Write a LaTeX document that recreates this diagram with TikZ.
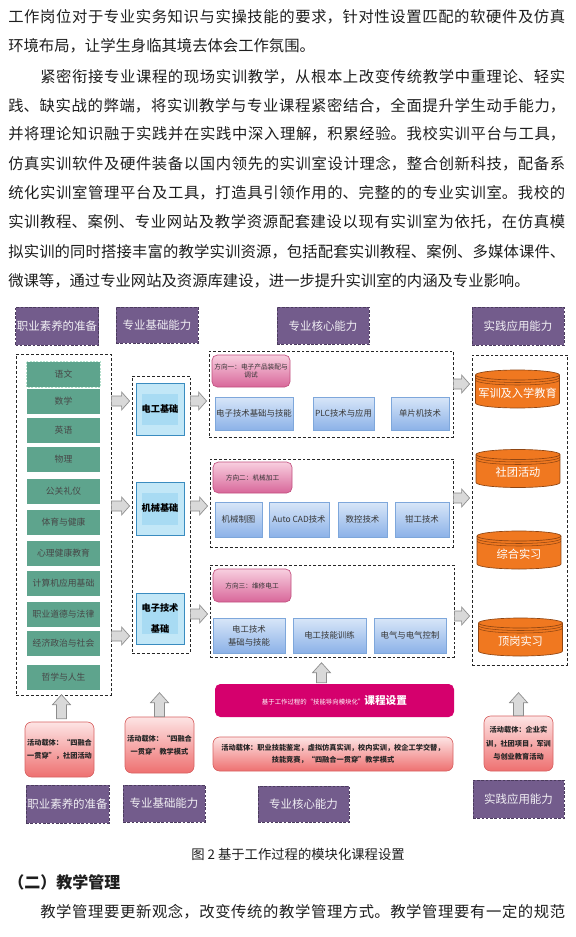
\documentclass[tikz,border=0pt]{standalone}
\usepackage{fontspec}
\setmainfont{Noto Sans CJK SC}
\usepackage{xcolor}
\usepackage{tikz}
\usetikzlibrary{calc}
\XeTeXlinebreaklocale "zh"
\XeTeXlinebreakskip=0pt plus 2pt
\definecolor{ink}{HTML}{1E1E1E}
\definecolor{hdpurple}{HTML}{735C8C}
\definecolor{hdline}{HTML}{4B3B5E}
\definecolor{sage}{HTML}{5EA48D}
\definecolor{sagedash}{HTML}{B4E0CC}
\definecolor{iceblue}{HTML}{C2E7F7}
\definecolor{icedeep}{HTML}{A8DBF3}
\definecolor{iceline}{HTML}{3A8CC0}
\definecolor{rosetop}{HTML}{F8CFDF}
\definecolor{rosebot}{HTML}{D8679A}
\definecolor{roseline}{HTML}{C2507F}
\definecolor{skytop}{HTML}{D8E6F8}
\definecolor{skybot}{HTML}{8CB2E8}
\definecolor{skyline}{HTML}{7EA7DB}
\definecolor{drum}{HTML}{F07820}
\definecolor{drumline}{HTML}{8F4512}
\definecolor{magentax}{HTML}{D5006D}
\definecolor{salmtop}{HTML}{FDE4E4}
\definecolor{salmbot}{HTML}{EE7070}
\definecolor{salmline}{HTML}{D86262}
\definecolor{arrowfill}{HTML}{D9D9D9}
\definecolor{arrowline}{HTML}{8C8C8C}
\def\pw{0.75pt}
% one justified line of running text
\newcommand\jline[2]{\parbox{#1}{\tolerance=9000\parfillskip=0pt\relax #2\par}}
\tikzset{
  sz/.style 2 args={minimum width=#1*\pw,minimum height=#2*\pw},
  bodytext/.style={font=\fontsize{11.5}{14}\selectfont,text=ink,inner sep=0pt,anchor=west},
  headbox/.style={rectangle,fill=hdpurple,draw=hdline,dashed,dash pattern=on 2pt off 1.2pt,
    text=white!90!hdpurple,font=\fontsize{8.6}{10}\selectfont,inner sep=0pt},
  groupbox/.style={draw=black!85,dash pattern=on 2.2pt off 1.5pt,line width=0.6pt,inner sep=0pt},
  sagebox/.style={fill=sage,text=black!72,font=\fontsize{6.6}{8}\selectfont,inner sep=0pt,sz={73}{25}},
  basebox/.style={fill=iceblue,draw=iceline,line width=0.6pt,font=\bfseries\fontsize{6.9}{8}\selectfont,
    align=center,inner sep=0pt,
    path picture={\fill[icedeep] ($(path picture bounding box.north west)+(6,11)$)
      rectangle ($(path picture bounding box.south east)+(-6,-10)$);}},
  dirbox/.style={rounded corners=4pt,top color=rosetop,bottom color=rosebot,draw=roseline,
    line width=0.5pt,font=\fontsize{5}{6.3}\selectfont,align=center,text=black!80,inner sep=0pt},
  coursebox/.style={top color=skytop,bottom color=skybot,draw=skyline,line width=0.5pt,
    font=\fontsize{6.3}{9.5}\selectfont,align=center,text=black!78,inner sep=0pt},
  actbox/.style={rounded corners=5pt,top color=salmtop,bottom color=salmbot,draw=salmline,
    line width=0.5pt,font=\bfseries\fontsize{5.4}{10}\selectfont,align=center,text=black!85,inner sep=0pt},
  corebar/.style={rounded corners=4pt,fill=magentax,text=white,inner sep=0pt},
  fatgray/.style={fill=arrowfill,draw=arrowline,line width=0.5pt},
  drumtext/.style={text=white,font=\fontsize{8.4}{10}\selectfont,inner sep=0pt},
  pics/drum/.style={code={
    \fill[drum] (-42,-14) rectangle (42,14);
    \fill[drum] (0,14) ellipse (42 and 5);
    \draw[drumline,line width=0.5pt] (-42,-14) -- (-42,14)
      arc[start angle=180,end angle=0,x radius=42,y radius=5] -- (42,-14);
    \filldraw[fill=drum,draw=drumline,line width=0.5pt] (0,-14) ellipse (42 and 5);
    \draw[drumline,line width=0.4pt] (-42,-11.5) arc[start angle=180,end angle=0,x radius=42,y radius=5];
    \draw[drumline,line width=0.4pt] (-42,-9) arc[start angle=180,end angle=0,x radius=42,y radius=5];
    \node[drumtext] (-txt) at (0,4) {#1};
  }}
}
% fat grey arrows between groups
\newcommand\fatright[3]{%
  \coordinate (fa) at (#1.east |- 0,#3);
  \coordinate (fb0) at (#2.west |- 0,#3);
  \coordinate (fb) at ($(fb0)+(-2,0)$);
  \draw[fatgray] ($(fa)+(0,-5)$) -- ($(fb)+(-8,-5)$) -- ($(fb)+(-8,-9)$) -- (fb)
    -- ($(fb)+(-8,9)$) -- ($(fb)+(-8,5)$) -- ($(fa)+(0,5)$) -- cycle;}
\newcommand\fatup[2]{%
  \coordinate (ua) at #1;
  \coordinate (ub) at #2;
  \draw[fatgray] ($(ua)+(-5,0)$) -- ($(ub)+(-5,10)$) -- ($(ub)+(-9,10)$) -- (ub)
    -- ($(ub)+(9,10)$) -- ($(ub)+(5,10)$) -- ($(ua)+(5,0)$) -- cycle;}

\begin{document}
\begin{tikzpicture}[x=0.75pt,y=-0.75pt]
\fill[white] (0,0) rectangle (575,937);
\useasboundingbox (0,0) rectangle (575,937);

% running text above the figure
\node[bodytext] (p1) at (8,17) {\jline{417.75pt}{工作岗位对于专业实务知识与实操技能的要求，针对性设置匹配的软硬件及仿真}};
\node[bodytext] (p2) at (8,46) {环境布局，让学生身临其境去体会工作氛围。};
\node[bodytext] (p3) at (40,77) {\jline{393.75pt}{紧密衔接专业课程的现场实训教学，从根本上改变传统教学中重理论、轻实}};
\node[bodytext] (p4) at (8,106) {\jline{417.75pt}{践、缺实战的弊端，将实训教学与专业课程紧密结合，全面提升学生动手能力，}};
\node[bodytext] (p5) at (8,134) {\jline{417.75pt}{并将理论知识融于实践并在实践中深入理解，积累经验。我校实训平台与工具，}};
\node[bodytext] (p6) at (8,164) {\jline{417.75pt}{仿真实训软件及硬件装备以国内领先的实训室设计理念，整合创新科技，配备系}};
\node[bodytext] (p7) at (8,193) {\jline{417.75pt}{统化实训室管理平台及工具，打造具引领作用的、完整的的专业实训室。我校的}};
\node[bodytext] (p8) at (8,222) {\jline{417.75pt}{实训教程、案例、专业网站及教学资源配套建设以现有实训室为依托，在仿真模}};
\node[bodytext] (p9) at (8,252) {\jline{417.75pt}{拟实训的同时搭接丰富的教学实训资源，包括配套实训教程、案例、多媒体课件、}};
\node[bodytext] (p10) at (8,281) {微课等，通过专业网站及资源库建设，进一步提升实训室的内涵及专业影响。};

% column headers
\node[headbox,sz={83}{38}] (h1) at (57,326) {职业素养的准备};
\node[headbox,sz={82}{36}] (h2) at (157,325) {专业基础能力};
\node[headbox,sz={92}{37}] (h3) at (323,326) {专业核心能力};
\node[headbox,sz={92}{38}] (h4) at (518,326) {实践应用能力};

% dashed groups
\node[groupbox,sz={95}{341}] (g1) at (63.5,524.5) {};
\node[groupbox,sz={58}{277}] (g2) at (161,514.5) {};
\node[groupbox,sz={244}{86}] (g3a) at (331,394) {};
\node[groupbox,sz={243}{88}] (g3b) at (331.5,503) {};
\node[groupbox,sz={244}{92}] (g3c) at (332,611) {};
\node[groupbox,sz={95}{310}] (g4) at (519.5,510) {};

% general courses
\foreach \nm/\yy [count=\i] in {语文/374.5,数学/401,英语/430.5,物理/459.5,公关礼仪/491,体育与健康/522,
  心理健康教育/553,计算机应用基础/583.5,职业道德与法律/614.5,经济政治与社会/643.5,哲学与人生/677.5}
  \node[sagebox] (s\i) at (63.5,\yy) {\nm};
\draw[sagedash,dash pattern=on 1.5pt off 1pt,line width=0.6pt] (s1.north west) rectangle (s1.south east);

% basic ability
\node[basebox,sz={48}{52}] (b1) at (160,409) {电工基础};
\node[basebox,sz={48}{53}] (b2) at (160,508.5) {机械基础};
\node[basebox,sz={48}{51},font=\bfseries\fontsize{6.9}{15.7}\selectfont] (b3) at (160,618.5) {电子技术\\基础};

% directions
\node[dirbox,sz={78}{32}] (d1) at (251,371) {方向一：电子产品装配与\\调试};
\node[dirbox,sz={79}{31}] (d2) at (252.5,477.5) {方向二：机械加工};
\node[dirbox,sz={78}{33}] (d3) at (252,585.5) {方向三：维修电工};

% core courses
\foreach \nm/\xx/\yy/\ww/\hh [count=\i] in {电子技术基础与技能/254/413.5/78/33,PLC技术与应用/343.5/413.5/61/33,
  单片机技术/420/413.5/58/33,机械制图/238.5/519.5/47/35,Auto CAD技术/299/519.5/60/35,
  数控技术/362.5/519.5/49/35,钳工技术/422/519.5/54/35,电工技术\\基础与技能/249/635.5/72/35,
  电工技能训练/329.5/635.5/73/35,电气与电气控制/410/635.5/72/35}
  \node[coursebox,sz={\ww}{\hh}] (c\i) at (\xx,\yy) {\nm};

% practice
\pic (cy1) at (517.5,389) {drum=军训及入学教育};
\pic (cy2) at (518,468.5) {drum=社团活动};
\pic (cy3) at (519,550) {drum=综合实习};
\pic (cy4) at (520.5,637) {drum=顶岗实习};

% course bar and activities
\node[corebar,sz={239}{33}] (core) at (334.5,700.5)
  {{\fontsize{4.8}{6}\selectfont 基于工作过程的“技能导向模块化”}{\bfseries\fontsize{8}{9}\selectfont 课程设置}};
\node[actbox,sz={69}{55}] (act1) at (59.5,749.5) {活动载体：“四融合\\一贯穿”，社团活动};
\node[actbox,sz={69}{56}] (act2) at (159.5,745) {活动载体：“四融合\\一贯穿”教学模式};
\node[actbox,sz={240}{34},font=\bfseries\fontsize{5.4}{9.3}\selectfont] (act3) at (333,754)
  {活动载体：职业技能鉴定，虚拟仿真实训，校内实训，校企工学交替，\\技能竞赛，“四融合一贯穿”教学模式};
\node[actbox,sz={69}{55}] (act4) at (518.5,743.5) {活动载体：企业实\\训，社团项目，军训\\与创业教育活动};

% bottom labels
\node[headbox,sz={83}{38}] (f1) at (67.5,804) {职业素养的准备};
\node[headbox,sz={82}{37}] (f2) at (164,803.5) {专业基础能力};
\node[headbox,sz={91}{36}] (f3) at (303.5,804) {专业核心能力};
\node[headbox,sz={91}{38}] (f4) at (518.5,799) {实践应用能力};

% arrows
\fatright{g1}{g2}{401}
\fatright{g1}{g2}{506}
\fatright{g1}{g2}{636}
\fatright{g2}{g3a}{401}
\fatright{g2}{g3b}{506}
\fatright{g2}{g3c}{614}
\fatright{g3a}{g4}{384}
\fatright{g3b}{g4}{498}
\fatright{g3c}{g4}{616}
\fatup{($(act1.north)+(2,-3)$)}{($(act1.north)+(2,-27)$)}
\fatup{(act2.north)}{($(act2.north)+(0,-24)$)}
\fatup{($(core.north)+(-13,-1)$)}{($(core.north)+(-13,-21)$)}
\fatup{(act4.north)}{($(act4.north)+(0,-23)$)}

% caption and following text
\node[font=\fontsize{10}{12}\selectfont,text=ink,inner sep=0pt] (cap) at (298,854) {图 2 基于工作过程的模块化课程设置};
\node[bodytext,font=\bfseries\fontsize{12}{14}\selectfont] (sec) at (8,882) {（二）教学管理};
\node[bodytext] (q1) at (40,912) {\jline{393.75pt}{教学管理要更新观念，改变传统的教学管理方式。教学管理要有一定的规范}};
\end{tikzpicture}
\end{document}
